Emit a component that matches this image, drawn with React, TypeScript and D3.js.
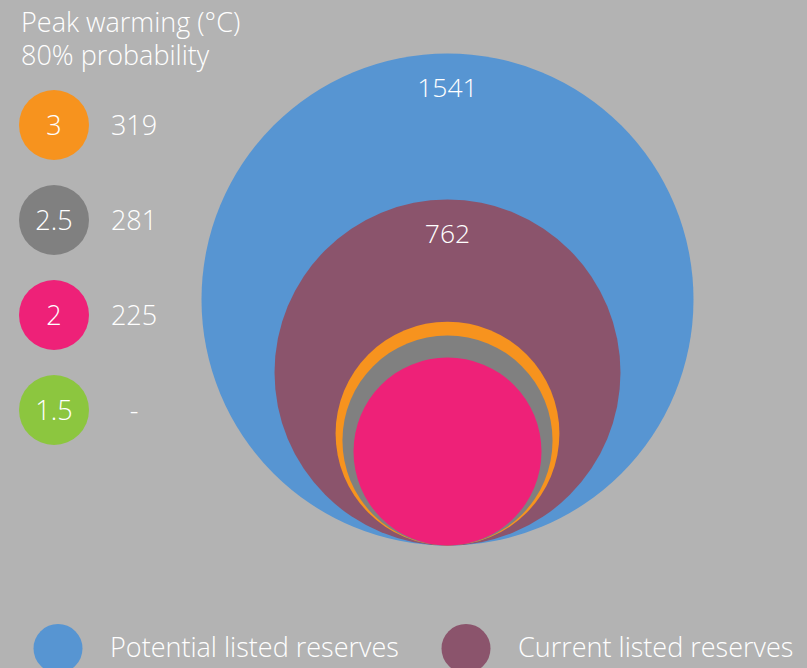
import * as d3 from 'd3';

const W = 807;
const H = 668;

// Reserves (GtCO2)
const reserveLabels = ['Potential listed reserves', 'Current listed reserves'];
const reserveValues = [1541, 762];
const reserveColors = ['#5795d2', '#8b546c'];

// Carbon budget by peak warming, 80% probability
const warmingLabels = ['3', '2.5', '2', '1.5'];
const budgetValues: (number | null)[] = [319, 281, 225, null];
const warmingColors = ['#f7931e', '#808080', '#ee2178', '#8cc63f'];

const FONT = '"Open Sans", Lato, sans-serif';

export default function App() {
  const r = d3.scaleSqrt().domain([0, 1541]).range([0, 246]);
  const cx = 447.5;
  const bottom = 545.5;

  const nested = [
    ...reserveValues.map((v, i) => ({ v, color: reserveColors[i], label: String(v) })),
    ...budgetValues
      .map((v, i) => ({ v, color: warmingColors[i], label: '' }))
      .filter(d => d.v != null),
  ] as { v: number; color: string; label: string }[];

  const legendY = d3.scalePoint<number>()
    .domain(warmingLabels.map((_, i) => i))
    .range([125, 410]);

  return (
    <svg width={W} height={H} style={{ position: 'absolute', left: 0, top: 0, display: 'block' }}>
      <rect width={W} height={H} fill="#b3b3b3" />

      <g fontFamily={FONT} fontWeight={300} fill="#fff">
        <text x={21} y={32} fontSize={27}>Peak warming (°C)</text>
        <text x={21} y={65} fontSize={27}>80% probability</text>
      </g>

      {nested.map(d => {
        const rad = r(d.v);
        return <circle key={d.v} cx={cx} cy={bottom - rad} r={rad} fill={d.color} />;
      })}
      {nested.filter(d => d.label).map(d => (
        <text
          key={'l' + d.v}
          x={cx}
          y={bottom - 2 * r(d.v) + 43}
          textAnchor="middle"
          fontFamily={FONT}
          fontWeight={300}
          fontSize={26.5}
          fill="#fff"
        >
          {d.label}
        </text>
      ))}

      {warmingLabels.map((lab, i) => {
        const y = legendY(i)!;
        const v = budgetValues[i];
        return (
          <g key={lab} fontFamily={FONT} fontWeight={300} fontSize={27} fill="#fff">
            <circle cx={54} cy={y} r={35} fill={warmingColors[i]} />
            <text x={54} y={y + 9.5} textAnchor="middle">{lab}</text>
            <text x={134} y={y + 9.5} textAnchor="middle">{v == null ? '-' : v}</text>
          </g>
        );
      })}

      {reserveLabels.map((lab, i) => {
        const x0 = i === 0 ? 58 : 466;
        return (
          <g key={lab} fontFamily={FONT} fontWeight={300} fontSize={27} fill="#fff">
            <circle cx={x0} cy={648.5} r={24.5} fill={reserveColors[i]} />
            <text x={x0 + 52} y={657}>{lab}</text>
          </g>
        );
      })}
    </svg>
  );
}
